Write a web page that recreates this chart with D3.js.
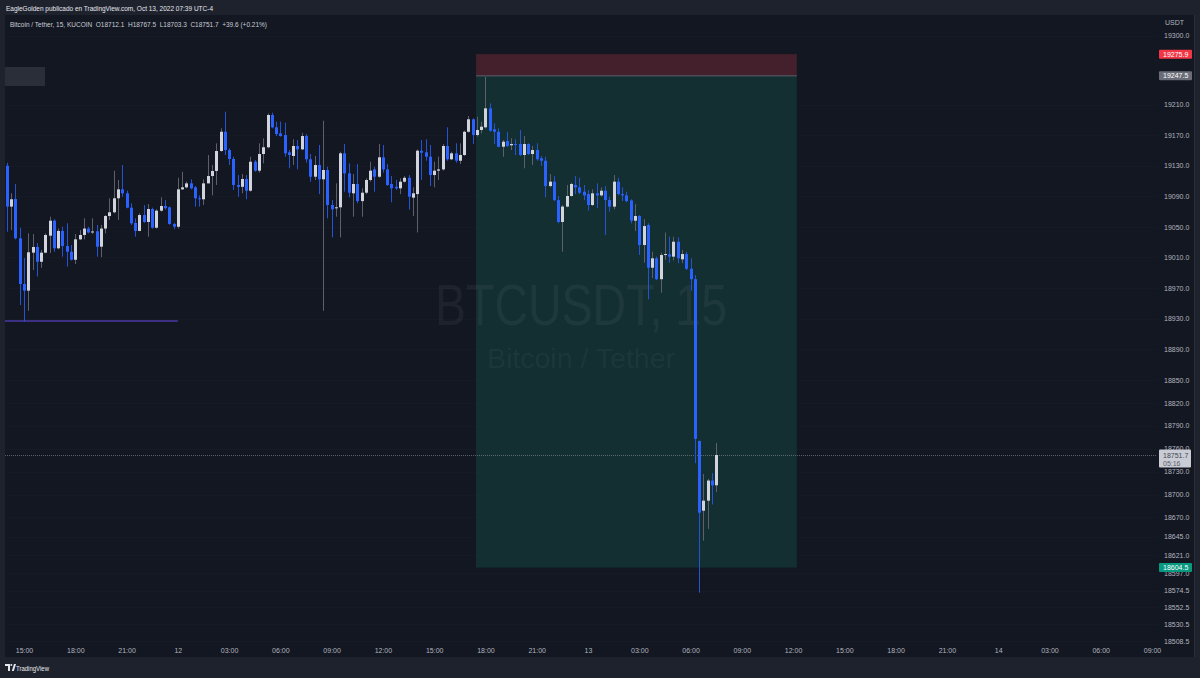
<!DOCTYPE html>
<html>
<head>
<meta charset="utf-8">
<script src="https://cdn.jsdelivr.net/npm/d3@7"></script>
<style>
  html, body { margin: 0; padding: 0; background: #1e222d; }
  svg { display: block; }
  text { font-family: "Liberation Sans", Arial, sans-serif; }
</style>
</head>
<body>
<svg id="chart" width="1200" height="678"></svg>
<script>
// ---------------- DATA ----------------
const firstBarTime = "2022-10-11T14:00";   // 15-minute bars
const barMinutes = 15;

const opens = [19129.9,19076.5,19086.5,19035.1,18975.3,18966.6,19016.3,19023.7,19004.4,19016.3,
19038.5,19058.1,19022.0,19044.7,19025.0,19017.5,19007.0,19033.7,19039.4,19047.8,
19042.7,19044.3,19024.1,19047.8,19064.2,19069.1,19087.4,19099.1,19093.9,19075.1,
19055.2,19044.7,19065.5,19056.4,19073.4,19048.9,19071.2,19077.3,19075.6,19053.8,
19050.2,19099.1,19101.7,19106.9,19101.7,19087.4,19086.1,19106.9,19116.5,19123.1,
19149.2,19174.4,19150.5,19138.8,19104.8,19102.4,19112.6,19097.3,19135.2,19123.5,
19145.3,19154.1,19196.3,19180.2,19172.3,19170.1,19147.5,19142.7,19155.8,19151.4,
19168.8,19138.4,19115.6,19130.9,19112.2,19124.4,19078.6,19074.4,19075.6,19146.2,
19120.0,19093.9,19106.1,19083.7,19094.7,19111.3,19125.2,19115.6,19141.0,19125.2,
19106.1,19102.4,19100.4,19109.1,19114.2,19088.2,19092.9,19149.6,19147.5,19141.8,
19117.8,19123.5,19125.2,19155.8,19138.4,19146.2,19136.5,19144.0,19174.4,19190.7,
19170.1,19176.7,19180.2,19205.0,19177.6,19174.4,19154.8,19162.3,19156.7,19158.4,
19158.4,19144.0,19158.4,19145.3,19150.5,19139.7,19136.5,19103.4,19109.1,19085.0,
19056.4,19076.5,19090.4,19104.8,19101.7,19096.0,19092.9,19078.6,19093.9,19091.2,
19097.3,19085.1,19076.5,19109.1,19092.9,19091.2,19084.6,19058.1,19064.2,19026.3,
19052.5,18996.6,19008.9,18981.6,19013.2,19014.1,19011.1,19030.6,19007.6,19014.5,
18995.2,18981.6,18770.2,18678.9,18692.0,18718.3,18712.1];

const highs = [19133.9,19093.9,19106.1,19048.9,19009.3,19041.6,19040.7,19028.8,19019.8,19041.6,
19063.3,19060.0,19047.8,19050.2,19054.7,19026.3,19040.7,19045.9,19061.2,19050.2,
19061.2,19052.5,19052.5,19065.5,19087.4,19123.5,19111.3,19130.9,19097.3,19080.8,
19061.2,19067.8,19078.6,19079.9,19075.1,19073.0,19088.7,19085.1,19076.5,19055.2,
19114.2,19122.1,19109.2,19112.2,19103.4,19091.2,19112.2,19144.0,19130.9,19159.3,
19178.9,19200.6,19152.7,19141.8,19117.8,19119.1,19117.8,19141.8,19137.4,19159.3,
19165.8,19198.5,19199.3,19187.5,19187.5,19186.2,19150.5,19164.5,19163.6,19173.1,
19171.4,19145.3,19142.7,19157.1,19188.8,19128.7,19085.1,19106.9,19148.3,19158.4,
19133.1,19119.1,19132.2,19100.4,19113.5,19135.2,19128.7,19158.4,19157.1,19132.2,
19116.5,19111.3,19113.5,19116.5,19117.8,19101.7,19151.4,19163.6,19164.5,19157.1,
19135.2,19141.8,19158.4,19180.2,19148.3,19159.3,19159.3,19175.7,19195.0,19192.0,
19194.1,19187.5,19246.3,19211.6,19185.4,19178.9,19163.6,19174.4,19165.8,19164.5,
19176.7,19168.8,19159.3,19155.8,19159.3,19142.7,19141.8,19119.1,19116.5,19090.4,
19078.6,19104.8,19107.8,19116.5,19114.2,19104.8,19098.2,19099.1,19106.9,19101.7,
19103.4,19089.5,19117.8,19114.2,19101.7,19096.0,19086.1,19079.9,19065.5,19060.0,
19054.7,19017.5,19011.1,19016.3,19042.7,19037.2,19037.2,19036.3,19020.0,19017.5,
19008.9,18987.1,18770.2,18726.9,18720.5,18727.9,18767.5];

const lows = [19043.7,19045.9,19033.7,18947.8,18925.8,18940.3,18993.6,18985.1,18996.6,19015.5,
19015.7,19017.5,19020.7,19011.1,18998.2,19006.1,19001.4,19032.8,19033.7,19041.6,
19040.7,19011.1,19010.3,19041.6,19059.1,19067.8,19059.1,19089.5,19074.4,19052.5,
19037.2,19044.3,19055.2,19037.2,19047.8,19047.8,19069.9,19072.5,19052.8,19046.8,
19047.8,19098.2,19100.4,19099.1,19076.5,19076.5,19078.6,19106.9,19091.2,19104.8,
19148.3,19144.0,19130.9,19098.2,19089.5,19093.9,19086.1,19096.0,19122.1,19120.9,
19133.1,19152.7,19178.9,19168.8,19168.0,19141.8,19126.6,19130.9,19125.2,19150.5,
19133.9,19109.1,19111.3,19092.9,18940.3,19061.2,19036.3,19063.3,19036.3,19096.0,
19088.7,19063.3,19080.8,19063.3,19092.9,19109.1,19096.0,19114.2,19120.9,19103.4,
19082.1,19098.2,19092.9,19107.8,19072.5,19064.2,19042.7,19111.3,19136.5,19103.4,
19101.7,19111.3,19123.5,19136.5,19137.4,19133.9,19132.2,19142.7,19173.1,19158.4,
19168.0,19172.3,19178.9,19174.4,19158.4,19154.1,19141.8,19154.1,19150.5,19144.0,
19142.7,19126.6,19144.0,19130.9,19136.5,19129.9,19088.7,19101.7,19083.7,19054.7,
19017.5,19075.6,19089.5,19092.9,19092.9,19085.0,19071.2,19077.3,19074.4,19089.5,
19039.4,19069.9,19073.0,19091.2,19083.7,19082.1,19054.7,19044.7,19013.2,19003.1,
18955.3,18982.9,18980.6,18963.8,19007.0,19003.1,19006.1,19002.5,19002.5,18993.6,
18966.6,18741.0,18571.7,18639.7,18655.2,18687.0,18703.3];

const closes = [19076.5,19086.1,19035.1,18975.3,18966.6,19016.8,19023.7,19004.4,19016.3,19039.4,
19058.1,19022.0,19044.7,19025.0,19017.5,19007.0,19033.7,19039.4,19047.8,19042.7,
19044.0,19024.1,19047.8,19064.2,19069.1,19087.4,19099.1,19093.9,19075.1,19054.7,
19044.7,19065.5,19056.4,19073.4,19048.9,19071.2,19077.3,19074.4,19053.8,19050.2,
19099.1,19101.7,19106.9,19100.4,19087.4,19086.1,19106.9,19116.5,19123.1,19149.2,
19174.4,19150.5,19138.8,19104.8,19102.4,19112.6,19097.3,19135.2,19123.5,19145.3,
19154.1,19196.3,19180.2,19171.4,19168.8,19146.2,19144.0,19155.8,19151.4,19168.8,
19138.4,19115.6,19130.9,19112.2,19124.4,19078.6,19073.0,19075.6,19146.2,19120.0,
19094.7,19106.1,19083.7,19094.7,19111.3,19123.5,19115.6,19141.0,19125.2,19104.8,
19100.4,19100.4,19109.1,19114.2,19089.5,19093.9,19149.6,19147.0,19141.8,19117.8,
19123.5,19125.2,19155.8,19138.4,19146.2,19136.5,19144.0,19174.4,19190.7,19170.1,
19176.7,19181.0,19205.0,19175.7,19174.4,19154.8,19161.4,19155.8,19158.4,19157.1,
19144.0,19158.4,19145.3,19150.5,19138.4,19136.5,19103.4,19109.1,19085.0,19056.4,
19076.5,19090.4,19106.1,19101.7,19094.7,19091.2,19078.6,19093.9,19091.2,19097.3,
19085.1,19076.5,19109.1,19092.9,19091.2,19083.7,19058.1,19064.2,19026.3,19051.1,
18996.6,19008.9,18981.6,19013.2,19014.5,19011.1,19030.6,19008.9,19014.5,18995.2,
18981.6,18772.8,18676.3,18692.0,18718.3,18712.1,18751.7];

// price axis labels
const priceTicks = [19300.0,19210.0,19170.0,19130.0,19090.0,19050.0,19010.0,18970.0,18930.0,
  18890.0,18850.0,18820.0,18790.0,18760.0,18730.0,18700.0,18670.0,18645.0,18621.0,18597.0,
  18574.5,18552.5,18530.5,18508.5];

// time axis labels
const timeTicks = ["2022-10-11T15:00","2022-10-11T18:00","2022-10-11T21:00","2022-10-12T00:00",
  "2022-10-12T03:00","2022-10-12T06:00","2022-10-12T09:00","2022-10-12T12:00","2022-10-12T15:00",
  "2022-10-12T18:00","2022-10-12T21:00","2022-10-13T00:00","2022-10-13T03:00","2022-10-13T06:00",
  "2022-10-13T09:00","2022-10-13T12:00","2022-10-13T15:00","2022-10-13T18:00","2022-10-13T21:00",
  "2022-10-14T00:00","2022-10-14T03:00","2022-10-14T06:00","2022-10-14T09:00"];

// short position tool
const positionStart = "2022-10-12T17:27";
const positionEnd = "2022-10-13T12:13";
const stopPrice = 19275.9;
const entryPrice = 19247.5;
const targetPrice = 18604.5;

// horizontal ray (support line)
const supportStart = "2022-10-11T13:40";
const supportEnd = "2022-10-12T00:00";
const supportPrice = 18926.9;

// last price
const lastPrice = 18751.7;
const countdown = "05:16";

const headerText = "EagleGolden publicado en TradingView.com, Oct 13, 2022 07:39 UTC-4";
const legendText = "Bitcoin / Tether, 15, KUCOIN  O18712.1  H18767.5  L18703.3  C18751.7  +39.6 (+0.21%)";

// ---------------- DRAW ----------------
const parse = d3.timeParse("%Y-%m-%dT%H:%M");
const t0 = parse(firstBarTime);
const bars = closes.map((c, i) => ({
  t: d3.timeMinute.offset(t0, i * barMinutes),
  o: opens[i], h: highs[i], l: lows[i], c: c
}));

const svg = d3.select("#chart");
const W = 1200, H = 678;
const panel = {x0: 5, x1: 1195, y0: 15, y1: 657};
const plot = {x0: 5, x1: 1157, y0: 15, y1: 643};

const x = d3.scaleTime()
  .domain([parse("2022-10-11T15:00"), parse("2022-10-14T09:00")])
  .range([24, 1152]);
const y = d3.scaleLinear().domain([18508.5, 19300]).range([641, 35.7]);

svg.append("rect").attr("width", W).attr("height", H).attr("fill", "#1e222d");
svg.append("rect").attr("x", panel.x0).attr("y", panel.y0)
  .attr("width", panel.x1 - panel.x0).attr("height", panel.y1 - panel.y0)
  .attr("fill", "#131722");

svg.append("defs").append("clipPath").attr("id", "plotclip")
  .append("rect").attr("x", plot.x0).attr("y", plot.y0)
  .attr("width", plot.x1 - plot.x0).attr("height", plot.y1 - plot.y0);

const g = svg.append("g").attr("clip-path", "url(#plotclip)");

// faint grid
g.selectAll("line.hgrid").data(priceTicks).join("line")
  .attr("class", "hgrid")
  .attr("x1", plot.x0).attr("x2", plot.x1)
  .attr("y1", d => Math.round(y(d)) + 0.5).attr("y2", d => Math.round(y(d)) + 0.5)
  .attr("stroke", "#161a25").attr("stroke-width", 1);

// left grey block
g.append("rect").attr("x", 5).attr("y", 67).attr("width", 40).attr("height", 19).attr("fill", "#2a2e39");

const cx = (plot.x0 + plot.x1) / 2;
// position tool boxes
const px0 = x(parse(positionStart)), px1 = x(parse(positionEnd));
g.append("rect").attr("x", px0).attr("y", y(stopPrice))
  .attr("width", px1 - px0).attr("height", y(entryPrice) - y(stopPrice))
  .attr("fill", "#43202b");
g.append("rect").attr("x", px0).attr("y", y(entryPrice))
  .attr("width", px1 - px0).attr("height", y(targetPrice) - y(entryPrice))
  .attr("fill", "#132f32");
g.append("line").attr("x1", px0).attr("x2", px1)
  .attr("y1", y(entryPrice)).attr("y2", y(entryPrice))
  .attr("stroke", "#5d606b").attr("stroke-width", 1);

// watermark
g.append("text").attr("x", cx).attr("y", 325)
  .attr("text-anchor", "middle").attr("font-size", 58)
  .attr("font-family", "Roboto, sans-serif")
  .attr("textLength", 292).attr("lengthAdjust", "spacingAndGlyphs")
  .attr("fill", "rgba(178,181,190,0.07)").text("BTCUSDT, 15");
g.append("text").attr("x", cx).attr("y", 368)
  .attr("text-anchor", "middle").attr("font-size", 28)
  .attr("font-family", "Roboto, sans-serif")
  .attr("textLength", 188).attr("lengthAdjust", "spacingAndGlyphs")
  .attr("fill", "rgba(178,181,190,0.07)").text("Bitcoin / Tether");

// support line
g.append("line")
  .attr("x1", x(parse(supportStart))).attr("x2", x(parse(supportEnd)))
  .attr("y1", y(supportPrice)).attr("y2", y(supportPrice))
  .attr("stroke", "#4b3aa6").attr("stroke-width", 1.5);

// last price line
g.append("line").attr("x1", plot.x0).attr("x2", plot.x1)
  .attr("y1", Math.round(y(lastPrice)) + 0.5).attr("y2", Math.round(y(lastPrice)) + 0.5)
  .attr("stroke", "#8a8d96").attr("stroke-opacity", 0.6)
  .attr("stroke-dasharray", "1,1");

// candles
const upBody = "#d1d4dc", upWick = "#5d606b", dnBody = "#2962ff", dnWick = "#2453d6";
const cg = g.append("g");
cg.selectAll("line.wick").data(bars).join("line")
  .attr("class", "wick")
  .attr("x1", d => Math.round(x(d.t)) + 0.5).attr("x2", d => Math.round(x(d.t)) + 0.5)
  .attr("y1", d => y(d.h)).attr("y2", d => y(d.l))
  .attr("stroke", d => d.c >= d.o ? upWick : dnWick).attr("stroke-width", 1);
cg.selectAll("rect.body").data(bars).join("rect")
  .attr("class", "body")
  .attr("x", d => Math.round(x(d.t)) - 1)
  .attr("width", 3)
  .attr("y", d => y(Math.max(d.o, d.c)))
  .attr("height", d => Math.max(1, Math.abs(y(d.o) - y(d.c))))
  .attr("fill", d => d.c >= d.o ? upBody : dnBody);

// price axis
const yAxis = d3.axisRight(y).tickValues(priceTicks)
  .tickFormat(d3.format(".1f")).tickSize(0).tickPadding(0);
const ya = svg.append("g").attr("transform", "translate(1164,0)").call(yAxis);
ya.select(".domain").remove();
ya.selectAll("text").attr("fill", "#b2b5be").attr("font-size", 7)
  .attr("font-family", "Liberation Sans, Arial, sans-serif");

svg.append("text").attr("x", 1165).attr("y", 25).attr("font-size", 7)
  .attr("fill", "#b2b5be").text("USDT");

// axis price labels
function priceLabel(v, bg, fg) {
  const yy = y(v);
  svg.append("rect").attr("x", 1159).attr("y", yy - 4.5).attr("width", 33).attr("height", 9)
    .attr("fill", bg).attr("rx", 1);
  svg.append("text").attr("x", 1163).attr("y", yy + 2.5).attr("font-size", 7)
    .attr("fill", fg).text(d3.format(".1f")(v));
}
priceLabel(stopPrice, "#f23645", "#ffffff");
priceLabel(entryPrice, "#6a6d78", "#ffffff");
priceLabel(targetPrice, "#089981", "#ffffff");

// last price label
{
  const yy = y(lastPrice);
  svg.append("rect").attr("x", 1159).attr("y", yy - 5.5).attr("width", 32).attr("height", 18)
    .attr("fill", "#c9ccd4").attr("rx", 1);
  svg.append("text").attr("x", 1163).attr("y", yy + 2.5).attr("font-size", 7)
    .attr("fill", "#434651").text(d3.format(".1f")(lastPrice));
  svg.append("text").attr("x", 1163).attr("y", yy + 10.5).attr("font-size", 7)
    .attr("fill", "#5d606b").text(countdown);
}

// right border
svg.append("line").attr("x1", 1194.5).attr("x2", 1194.5).attr("y1", panel.y0).attr("y2", panel.y1)
  .attr("stroke", "#2a2e39");

// time axis
const dayFmt = d3.timeFormat("%-d"), hourFmt = d3.timeFormat("%H:%M");
const xAxis = d3.axisBottom(x).tickValues(timeTicks.map(parse))
  .tickFormat(d => d.getHours() === 0 ? dayFmt(d) : hourFmt(d))
  .tickSize(0).tickPadding(0);
const xa = svg.append("g").attr("transform", "translate(0,648)").call(xAxis);
xa.select(".domain").remove();
xa.selectAll("text").attr("fill", "#b2b5be").attr("font-size", 7)
  .attr("font-family", "Liberation Sans, Arial, sans-serif");

// header & legend
svg.append("text").attr("x", 6).attr("y", 10.5).attr("font-size", 7.5)
  .attr("fill", "#e6e8ee").attr("textLength", 207).attr("lengthAdjust", "spacingAndGlyphs")
  .text(headerText);
svg.append("text").attr("x", 10).attr("y", 26.5).attr("font-size", 7.5)
  .attr("fill", "#c8cbd3").attr("xml:space", "preserve")
  .attr("textLength", 257).attr("lengthAdjust", "spacingAndGlyphs")
  .text(legendText);

// footer logo
const logo = svg.append("g").attr("transform", "translate(5,664)");
logo.append("path").attr("d", "M0,0 H5 V7 H3 V2 H0 Z").attr("fill", "#e6e8ee");
logo.append("circle").attr("cx", 6.3).attr("cy", 1).attr("r", 1).attr("fill", "#e6e8ee");
logo.append("path").attr("d", "M6.8,7 L9,0 H11 L8.8,7 Z").attr("fill", "#e6e8ee");
svg.append("text").attr("x", 16).attr("y", 670.5).attr("font-size", 7.5)
  .attr("fill", "#e6e8ee").attr("textLength", 33).attr("lengthAdjust", "spacingAndGlyphs")
  .text("TradingView");
</script>
</body>
</html>
